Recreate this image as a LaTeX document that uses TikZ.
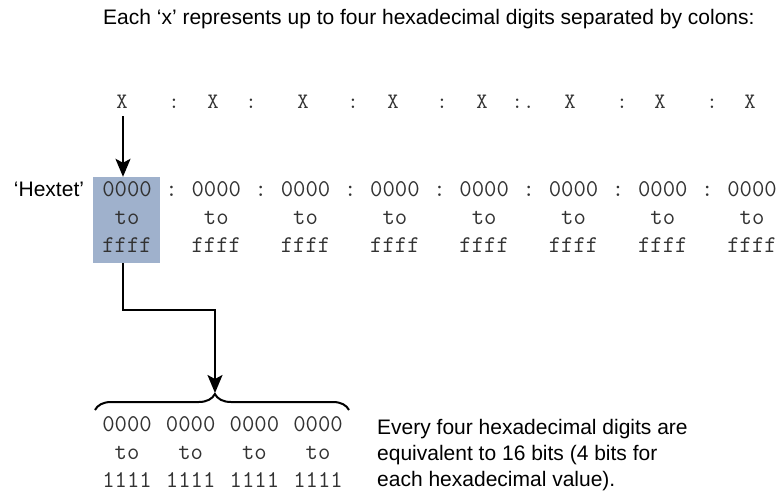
\documentclass[tikz,border=0pt]{standalone}
\usepackage{fontspec}
\setmainfont{Liberation Sans}
\usetikzlibrary{arrows.meta,decorations.pathreplacing}
\definecolor{hexblue}{RGB}{159,177,204}
\definecolor{monoink}{RGB}{50,50,50}
\begin{document}
\begin{tikzpicture}[x=1pt,y=-1pt,
  lbl/.style={font=\fontsize{21}{26}\selectfont, inner sep=0pt, anchor=base west},
  mono/.style={font=\ttfamily\fontsize{24}{28}\selectfont, text=monoink, inner sep=0pt, anchor=base},
  xmark/.style={font=\ttfamily\fontsize{22}{24}\selectfont, text=monoink, inner sep=0pt, anchor=base},
  link/.style={line width=2pt, black},
  tip/.style={-{Stealth[length=18pt,width=15pt,inset=4pt]}},
  brace/.style={line width=2pt, decorate,
    decoration={brace, amplitude=16pt, aspect=0.472}}
]
\useasboundingbox (0,0) rectangle (780,492);

% heading
\node[lbl] (title) at (103,25) {Each `x' represents up to four hexadecimal digits separated by colons:};

% the eight x fields and their separators
\foreach \xp [count=\k from 0] in {122,213,303,393,482,570,660,750}
  \node[xmark] (x\k) at (\xp,109) {X};
\foreach \cp [count=\k from 0] in {174,251,353,442}
  \node[xmark] (xc\k) at (\cp,109) {:};
\node[xmark] (xc4) at (523,109) {:.};
\node[xmark] (xc5) at (622,109) {:};
\node[xmark] (xc6) at (712,109) {:};

% highlighted first hextet
\node[fill=hexblue, minimum width=67pt, minimum height=86pt, inner sep=0pt]
  (box) at (126.5,220) {};
\node[lbl, anchor=base] (hextet) at (49,197) {`Hextet'};

% hextet ranges
\foreach \k in {0,...,7} {
  \node[mono] (lo\k) at ({127+89.3*\k},197) {0000};
  \node[mono] (to\k) at ({127+89.3*\k},225) {to};
  \node[mono] (hi\k) at ({127+89.3*\k},253) {ffff};
}
\foreach \k in {0,...,6}
  \node[mono] (hc\k) at ({171.6+89.3*\k},197) {:};

% connectors
\coordinate (armx) at (123,0);
\coordinate (bracetip) at (215,393);
\coordinate (bl) at (95,410);
\coordinate (br) at (349,410);
\draw[link,tip] ([yshift=-7pt]armx |- x0.south) -- (armx |- box.north);
\draw[link,tip] (armx |- box.south) -- ++(0,47) -| (bracetip);
\draw[brace] (bl) -- (br);

% binary ranges of one hextet
\foreach \k in {0,...,3} {
  \node[mono] (b0\k) at ({127+63.7*\k},431) {0000};
  \node[mono] (bt\k) at ({127+63.7*\k},459) {to};
  \node[mono] (b1\k) at ({127+63.7*\k},487) {1111};
}

% explanation
\node[lbl, anchor=north west, align=left] (note) at (377,419)
  {Every four hexadecimal digits are\\equivalent to 16 bits (4 bits for\\each hexadecimal value).};
\end{tikzpicture}
\end{document}
